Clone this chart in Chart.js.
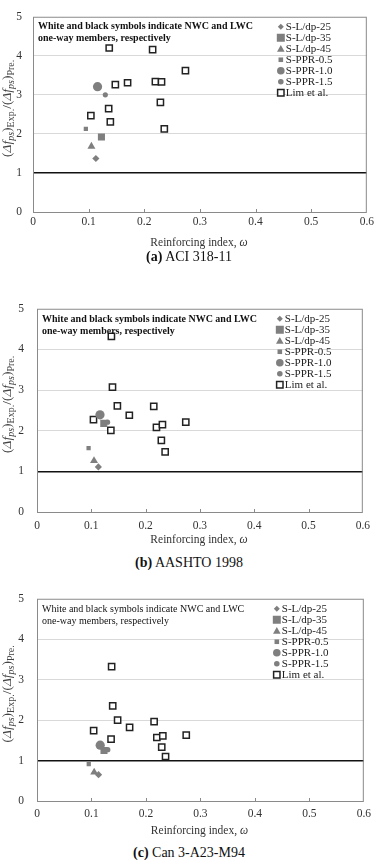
<!DOCTYPE html>
<html>
<head>
<meta charset="utf-8">
<script src="https://cdn.jsdelivr.net/npm/chart.js@4.4.1/dist/chart.umd.min.js"></script>
<style>
  body { margin:0; background:#fff; width:378px; height:860px; position:relative; overflow:hidden; font-family:"Liberation Serif", serif; }
  canvas { position:absolute; left:0; }
  .cap { position:absolute; left:0; width:378px; text-align:center; font-size:14px; line-height:16px; color:#111; }
</style>
</head>
<body>
<canvas id="chartA" width="378" height="250" style="top:0"></canvas>
<canvas id="chartB" width="378" height="260" style="top:290px"></canvas>
<canvas id="chartC" width="378" height="260" style="top:580px"></canvas>
<div class="cap" style="top:249px"><b>(a)</b> ACI 318-11</div>
<div class="cap" style="top:555px"><b>(b)</b> AASHTO 1998</div>
<div class="cap" style="top:845px"><b>(c)</b> Can 3-A23-M94</div>

<script>
// series names (legend order)
const seriesNames = ["S-L/dp-25", "S-L/dp-35", "S-L/dp-45", "S-PPR-0.5", "S-PPR-1.0", "S-PPR-1.5", "Lim et al."];

// test specimens: reinforcing index and ratio for each code
const specOmega = [0.113, 0.123, 0.105, 0.095, 0.116, 0.130];
const specRatioACI = [1.37, 1.92, 1.68, 2.13, 3.21, 3.00];
const specRatioAASHTO = [1.11, 2.18, 1.26, 1.57, 2.39, 2.21];
const specRatioCSA = [0.65, 1.25, 0.71, 0.91, 1.38, 1.27];

// Lim et al. members
const limOmega = [0.104, 0.136, 0.137, 0.139, 0.148, 0.170, 0.215, 0.220, 0.229, 0.231, 0.236, 0.274];
const limRatioACI = [2.47, 2.65, 4.20, 2.31, 3.26, 3.31, 4.16, 3.34, 2.81, 3.33, 2.13, 3.62];
const limRatioAASHTO = [2.27, 2.01, 4.32, 3.07, 2.61, 2.38, 2.60, 2.08, 1.76, 2.15, 1.48, 2.21];
const limRatioCSA = [1.74, 1.53, 3.32, 2.35, 2.00, 1.82, 1.96, 1.57, 1.33, 1.61, 1.10, 1.63];

// axis ticks
const xTicks = [0, 0.1, 0.2, 0.3, 0.4, 0.5, 0.6];
const yTicks = [0, 1, 2, 3, 4, 5];
const noteLines = ["White and black symbols indicate NWC and LWC", "one-way members, respectively"];

const grey = "#7f7f7f";
const markStyle = [
  { pointStyle: "rectRot", radius: 3.6 },
  { pointStyle: "rect", radius: 5 },
  { pointStyle: "triangle", radius: 4.6 },
  { pointStyle: "rect", radius: 3 },
  { pointStyle: "circle", radius: 4.6 },
  { pointStyle: "circle", radius: 2.6 }
];
const legendSize = [3, 4, 3.8, 2.3, 3.8, 2.8, 3.2];

function drawMark(ctx, style, x, y, r) {
  ctx.beginPath();
  if (style == "circle") {
    ctx.arc(x, y, r, 0, Math.PI * 2);
  } else if (style == "rect") {
    ctx.rect(x - r, y - r, 2 * r, 2 * r);
  } else if (style == "rectRot") {
    ctx.moveTo(x, y - r); ctx.lineTo(x + r, y); ctx.lineTo(x, y + r); ctx.lineTo(x - r, y); ctx.closePath();
  } else {
    ctx.moveTo(x, y - r); ctx.lineTo(x + r, y + r * 0.8); ctx.lineTo(x - r, y + r * 0.8); ctx.closePath();
  }
}

// y title with subscripts, drawn rotated
function drawYTitle(ctx, cx, cy) {
  const parts = [
    ["(", 13.5, ""], ["\u0394f", 13.5, "italic "], ["ps", 10, "italic ", 1], [")", 13.5, ""], ["Exp.", 10, "", 1],
    ["/(", 13.5, ""], ["\u0394f", 13.5, "italic "], ["ps", 10, "italic ", 1], [")", 13.5, ""], ["Pre.", 10, "", 1]
  ];
  let total = 0;
  parts.forEach(p => { ctx.font = p[2] + p[1] + "px 'Liberation Serif'"; total += ctx.measureText(p[0]).width; });
  ctx.save();
  ctx.translate(cx, cy);
  ctx.rotate(-Math.PI / 2);
  ctx.fillStyle = "#444";
  ctx.textBaseline = "alphabetic";
  ctx.textAlign = "left";
  let pos = -total / 2;
  parts.forEach(p => {
    ctx.font = p[2] + p[1] + "px 'Liberation Serif'";
    ctx.fillText(p[0], pos, p[3] ? 6 : 3);
    pos += ctx.measureText(p[0]).width;
  });
  ctx.restore();
}

const decoPlugin = {
  id: "deco",
  beforeDatasetsDraw(chart, args, o) {
    const ctx = chart.ctx, a = chart.chartArea, xs = chart.scales.x;
    ctx.save();
    ctx.strokeStyle = "#8a8a8a";
    ctx.lineWidth = 1;
    ctx.strokeRect(a.left + 0.5, a.top + 0.5, a.right - a.left - 1, a.bottom - a.top);
    xTicks.slice(1, -1).forEach(v => {
      const px = Math.round(xs.getPixelForValue(v)) + 0.5;
      ctx.beginPath(); ctx.moveTo(px, a.bottom); ctx.lineTo(px, a.bottom - 3); ctx.stroke();
    });
    ctx.restore();
  },
  afterDraw(chart, args, o) {
    const ctx = chart.ctx, a = chart.chartArea;
    ctx.save();
    // note
    ctx.fillStyle = "#111";
    ctx.font = o.noteWeight + " 10px 'Liberation Serif'";
    ctx.textBaseline = "middle";
    ctx.textAlign = "left";
    ctx.fillText(noteLines[0], a.left + 5, a.top + o.noteY[0]);
    ctx.fillText(noteLines[1], a.left + 5, a.top + o.noteY[1]);
    // legend
    const lx = a.right - o.legendX;
    chart.data.datasets.forEach((ds, k) => {
      const ly = a.top + 10 + k * 11;
      ctx.fillStyle = ds.backgroundColor;
      ctx.strokeStyle = ds.borderColor;
      ctx.lineWidth = ds.borderWidth;
      drawMark(ctx, ds.pointStyle, lx, ly, legendSize[k]);
      ctx.fill();
      if (k == 6) ctx.stroke();
      ctx.fillStyle = "#222";
      ctx.font = "11px 'Liberation Serif'";
      ctx.fillText(ds.label, lx + 5, ly + 0.5);
    });
    // axis titles
    ctx.fillStyle = "#333";
    ctx.font = "11.5px 'Liberation Serif'";
    ctx.textAlign = "center";
    ctx.fillText("Reinforcing index, ", (a.left + a.right) / 2 - 5, a.bottom + o.xTitleY);
    const w = ctx.measureText("Reinforcing index, ").width;
    ctx.font = "italic 11.5px 'Liberation Serif'";
    ctx.fillText("\u03C9", (a.left + a.right) / 2 - 5 + w / 2 + 4, a.bottom + o.xTitleY);
    drawYTitle(ctx, 8, (a.top + a.bottom) / 2 - 6);
    ctx.restore();
  }
};

function buildChart(id, specRatio, limRatio, p) {
  const datasets = markStyle.map((m, k) => ({
    label: seriesNames[k],
    data: [{ x: specOmega[k], y: specRatio[k] }],
    pointStyle: m.pointStyle,
    pointRadius: m.radius,
    backgroundColor: grey,
    borderColor: grey,
    borderWidth: 0
  }));
  datasets.push({
    label: seriesNames[6],
    data: limOmega.map((w, i) => ({ x: w, y: limRatio[i] })),
    pointStyle: "rect",
    pointRadius: 4.4,
    backgroundColor: "#fff",
    borderColor: "#222",
    borderWidth: 1.5
  });

  new Chart(document.getElementById(id), {
    type: "scatter",
    data: { datasets: datasets },
    options: {
      responsive: false,
      animation: false,
      layout: { padding: { top: p.top, right: p.right, left: 0, bottom: 0 } },
      plugins: {
        legend: { display: false },
        tooltip: { enabled: false },
        deco: p
      },
      scales: {
        x: {
          type: "linear",
          min: xTicks[0],
          max: xTicks[xTicks.length - 1],
          afterBuildTicks: s => { s.ticks = xTicks.map(v => ({ value: v })); },
          grid: { display: false, drawTicks: false },
          border: { display: false },
          ticks: { padding: p.xPad, color: "#333", font: { family: "'Liberation Serif'", size: 11.5, lineHeight: 1 } },
          afterFit: s => { s.height = p.xH; }
        },
        y: {
          min: yTicks[0],
          max: yTicks[yTicks.length - 1],
          afterBuildTicks: s => { s.ticks = yTicks.map(v => ({ value: v })); },
          grid: {
            drawTicks: false,
            color: c => c.tick.value == 1 ? "#111" : (c.tick.value == 0 || c.tick.value == 5 ? "rgba(0,0,0,0)" : "#d9d9d9"),
            lineWidth: c => c.tick.value == 1 ? 1.6 : 1
          },
          border: { display: false },
          ticks: { padding: p.yPad, color: "#333", font: { family: "'Liberation Serif'", size: 11.5, lineHeight: 1 } },
          afterFit: s => { s.width = p.left; }
        }
      }
    },
    plugins: [decoPlugin]
  });
}

buildChart("chartA", specRatioACI, limRatioACI,
  { top: 6, right: 9, left: 33, xH: 38, xPad: 4, yPad: 11, xTitleY: 31, noteY: [9.5, 22], noteWeight: "bold", legendX: 86 });
buildChart("chartB", specRatioAASHTO, limRatioAASHTO,
  { top: 16, right: 8, left: 37, xH: 38, xPad: 8, yPad: 13, xTitleY: 28, noteY: [11, 22.5], noteWeight: "bold", legendX: 83 });
buildChart("chartC", specRatioCSA, limRatioCSA,
  { top: 15, right: 8, left: 37, xH: 39, xPad: 7, yPad: 13, xTitleY: 30, noteY: [11, 22.5], noteWeight: "normal", legendX: 87 });
</script>
</body>
</html>
